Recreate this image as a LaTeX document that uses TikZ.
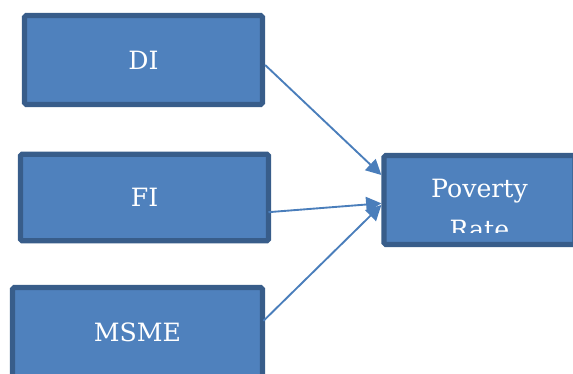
\documentclass[tikz,border=0pt]{standalone}
\usepackage{fontspec}
\setmainfont{DejaVu Serif}
\usepackage{tikz}
\usetikzlibrary{arrows.meta}
\definecolor{boxFill}{RGB}{79, 129, 189}
\definecolor{boxEdge}{RGB}{56, 93, 138}
\definecolor{arrowBlue}{RGB}{74, 126, 187}

\begin{document}
\begin{tikzpicture}[x=0.03cm, y=-0.03cm,
    factor/.style={draw=boxEdge, fill=boxFill, line width=4.5pt, rounded corners=1.5pt,
      text=white, font=\fontsize{21.5}{28}\selectfont, inner sep=0pt},
    link/.style={arrowBlue, line width=1.6pt, -{Triangle[length=13pt, width=13pt]}}]
        \clip (0,0) rectangle (573,374);
        \useasboundingbox (0,0) rectangle (573,374);
        \node[factor, minimum width=7.14cm, minimum height=2.67cm] (di) at (143.5,60) {DI};
        \node[factor, minimum width=7.44cm, minimum height=2.6cm] (fi) at (144.5,197.5) {FI};
        \node[factor, minimum width=7.5cm, minimum height=2.7cm] (msme) at (137.5,332.5) {MSME};
        \node[factor, minimum width=5.73cm, minimum height=2.67cm] (pr) at (479.5,200) {};
        \begin{scope}
          \clip (386,158) rectangle (573,232);
          \node[text=white, font=\fontsize{21.5}{28}\selectfont, anchor=base] (pr1) at (479.5,197) {Poverty};
          \node[text=white, font=\fontsize{21.5}{28}\selectfont, anchor=base] (pr2) at (479.5,238) {Rate};
        \end{scope}
        \draw[link] ([yshift=-0.15cm]di.east) -- ([yshift=0.75cm]pr.west);
        \draw[link] ([xshift=-0.08cm, yshift=-0.44cm]fi.east) -- ([yshift=-0.1cm]pr.west);
        \draw[link] ([xshift=-0.05cm, yshift=0.35cm]msme.east) -- ([yshift=-0.15cm]pr.west);
      \end{tikzpicture}
\end{document}
